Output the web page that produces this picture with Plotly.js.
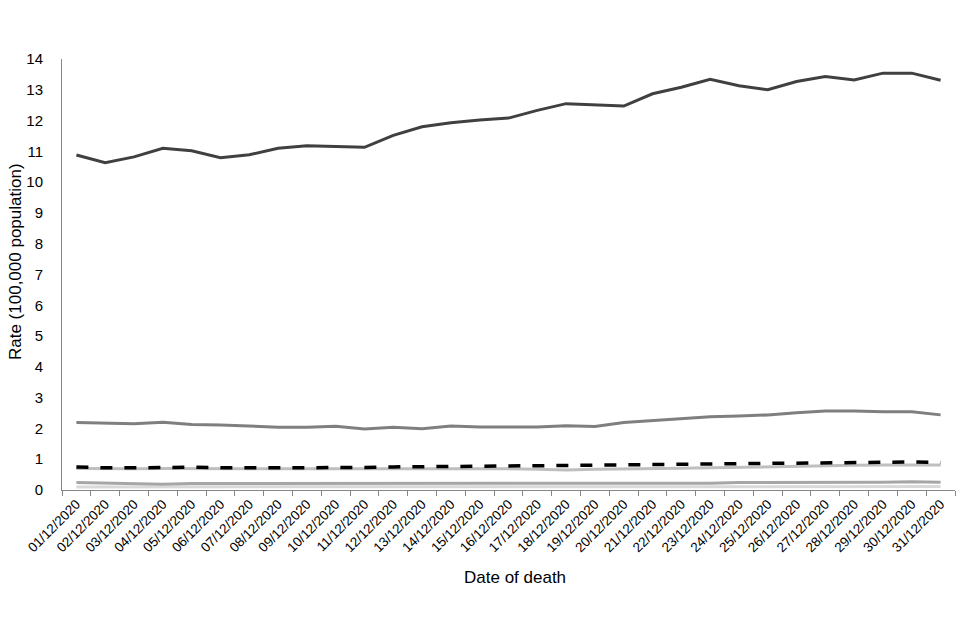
<!DOCTYPE html>
<html>
<head>
<meta charset="utf-8">
<script src="https://cdn.plot.ly/plotly-3.0.1.min.js"></script>
<style>html,body{margin:0;padding:0;background:#fff;}#chart{width:960px;height:640px;}</style>
</head>
<body>
<div id="chart"></div>
<script>
const dates = ["01/12/2020","02/12/2020","03/12/2020","04/12/2020","05/12/2020","06/12/2020","07/12/2020","08/12/2020","09/12/2020","10/12/2020","11/12/2020","12/12/2020","13/12/2020","14/12/2020","15/12/2020","16/12/2020","17/12/2020","18/12/2020","19/12/2020","20/12/2020","21/12/2020","22/12/2020","23/12/2020","24/12/2020","25/12/2020","26/12/2020","27/12/2020","28/12/2020","29/12/2020","30/12/2020","31/12/2020"];

const seriesTop = [10.88,10.63,10.82,11.10,11.02,10.79,10.89,11.10,11.18,11.16,11.13,11.52,11.80,11.93,12.02,12.08,12.33,12.55,12.52,12.47,12.87,13.08,13.34,13.13,13.00,13.27,13.43,13.32,13.54,13.54,13.31];
const seriesMid = [2.19,2.17,2.15,2.20,2.13,2.11,2.08,2.04,2.04,2.07,1.98,2.04,1.99,2.08,2.05,2.05,2.05,2.09,2.06,2.19,2.25,2.33,2.38,2.40,2.44,2.51,2.57,2.57,2.54,2.54,2.44];
const seriesDashed = [0.75,0.72,0.72,0.74,0.74,0.72,0.72,0.72,0.72,0.74,0.73,0.75,0.75,0.77,0.77,0.78,0.79,0.80,0.81,0.83,0.84,0.85,0.86,0.87,0.88,0.89,0.90,0.89,0.91,0.91,0.89];
const seriesLight = [0.70,0.69,0.69,0.70,0.69,0.69,0.69,0.69,0.68,0.69,0.69,0.70,0.69,0.69,0.70,0.69,0.67,0.65,0.67,0.69,0.70,0.71,0.72,0.74,0.76,0.77,0.79,0.80,0.81,0.82,0.81];
const seriesLow = [0.24,0.22,0.22,0.19,0.21,0.21,0.21,0.21,0.22,0.21,0.21,0.21,0.21,0.22,0.22,0.22,0.23,0.23,0.23,0.23,0.23,0.23,0.22,0.24,0.24,0.24,0.24,0.24,0.25,0.27,0.25];
const seriesLowest = [0.10,0.10,0.10,0.09,0.10,0.10,0.10,0.10,0.10,0.10,0.10,0.10,0.10,0.10,0.10,0.10,0.10,0.10,0.10,0.10,0.11,0.11,0.11,0.11,0.11,0.11,0.11,0.11,0.11,0.11,0.11];

const xTitle = 'Date of death';
const yTitle = 'Rate (100,000 population)';

const traces = [
  {x: dates, y: seriesLowest, type: 'scatter', mode: 'lines', line: {color: '#d9d9d9', width: 3}},
  {x: dates, y: seriesLow, type: 'scatter', mode: 'lines', line: {color: '#a6a6a6', width: 3}},
  {x: dates, y: seriesLight, type: 'scatter', mode: 'lines', line: {color: '#bfbfbf', width: 3}},
  {x: dates, y: seriesDashed, type: 'scatter', mode: 'lines', line: {color: '#000000', width: 3.5, dash: '12px,12px'}},
  {x: dates, y: seriesMid, type: 'scatter', mode: 'lines', line: {color: '#7f7f7f', width: 3}},
  {x: dates, y: seriesTop, type: 'scatter', mode: 'lines', line: {color: '#404040', width: 3}}
];

const layout = {
  width: 960, height: 640,
  margin: {l: 62, r: 5, t: 59, b: 150},
  paper_bgcolor: '#ffffff', plot_bgcolor: '#ffffff',
  showlegend: false,
  font: {family: 'Liberation Sans, Arial, sans-serif', color: '#000000'},
  xaxis: {
    type: 'category',
    range: [-0.5, 30.5],
    tickson: 'boundaries',
    ticks: 'outside', ticklen: 5, tickcolor: '#868686', tickwidth: 1,
    showline: true, linecolor: '#868686', linewidth: 1,
    showgrid: false, zeroline: false,
    tickangle: -45,
    tickfont: {size: 13.5, color: '#000'}
  },
  yaxis: {
    range: [0, 14], dtick: 1, tick0: 0,
    ticks: '', showline: true, linecolor: '#868686', linewidth: 1,
    showgrid: false, zeroline: false,
    ticklabelstandoff: 15,
    tickfont: {size: 15, color: '#000'}
  },
  annotations: [
    {text: xTitle, xref: 'paper', yref: 'paper', x: 0.507, y: -0.204, xanchor: 'center', yanchor: 'middle', showarrow: false, font: {size: 17, color: '#000'}},
    {text: yTitle, xref: 'paper', yref: 'paper', x: -0.0526, y: 0.529, xanchor: 'center', yanchor: 'middle', textangle: -90, showarrow: false, font: {size: 17, color: '#000'}}
  ]
};

Plotly.newPlot('chart', traces, layout, {displayModeBar: false, staticPlot: true});
</script>
</body>
</html>
